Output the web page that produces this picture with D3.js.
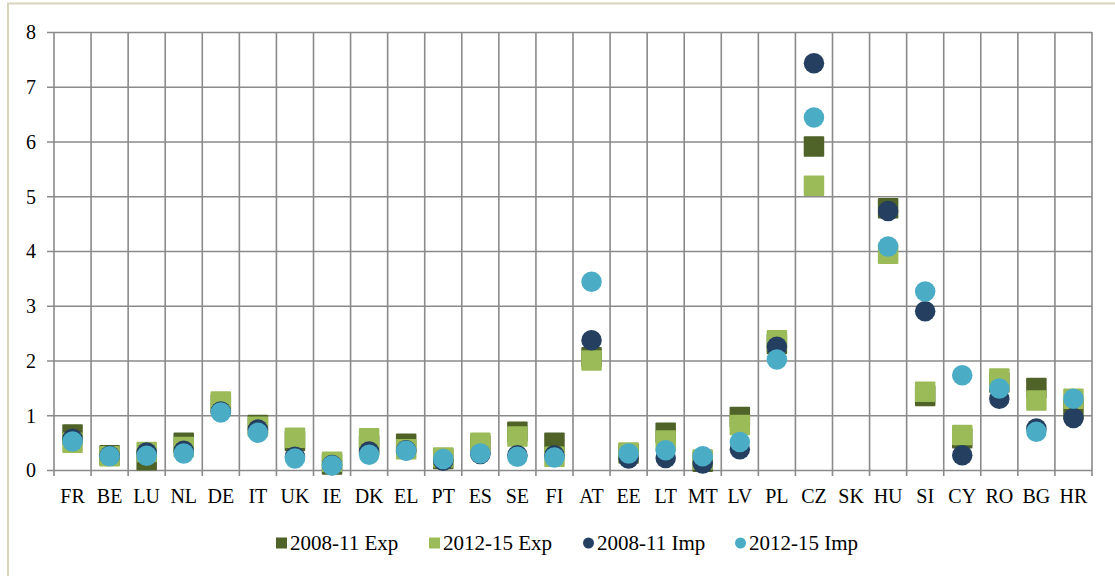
<!DOCTYPE html>
<html><head><meta charset="utf-8">
<script src="https://cdn.jsdelivr.net/npm/d3@7"></script>
<style>
html,body{margin:0;padding:0;background:#fff;}
svg{display:block;}
svg text{font-family:"Liberation Serif","Times New Roman",Times,serif !important;}
</style></head>
<body><svg id="c" width="1115" height="576"></svg>
<script>
const categories = ["FR","BE","LU","NL","DE","IT","UK","IE","DK","EL","PT","ES","SE","FI","AT","EE","LT","MT","LV","PL","CZ","SK","HU","SI","CY","RO","BG","HR"];
const exp0811 = [0.65,0.27,0.18,0.50,1.20,0.82,0.53,0.10,0.45,0.48,0.20,0.45,0.70,0.50,2.06,0.30,0.68,0.15,0.97,2.30,5.91,null,4.78,1.35,0.58,1.60,1.50,1.10];
const exp1215 = [0.50,0.25,0.33,0.42,1.25,0.79,0.59,0.15,0.58,0.38,0.23,0.50,0.61,0.24,2.00,0.32,0.54,0.19,0.82,2.37,5.19,null,3.95,1.43,0.64,1.67,1.27,1.30];
const imp0811 = [0.57,0.26,0.32,0.35,1.07,0.74,0.24,0.09,0.34,0.36,0.17,0.29,0.27,0.27,2.37,0.21,0.22,0.12,0.38,2.25,7.43,null,4.73,2.90,0.27,1.30,0.76,0.95];
const imp1215 = [0.52,0.25,0.26,0.30,1.05,0.68,0.21,0.08,0.28,0.35,0.20,0.30,0.24,0.23,3.44,0.30,0.36,0.25,0.51,2.02,6.44,null,4.08,3.26,1.73,1.49,0.70,1.30];
const seriesNames = ["2008-11 Exp","2012-15 Exp","2008-11 Imp","2012-15 Imp"];
const seriesColors = ["#4F6228","#9BBB59","#243F60","#4BACC6"];
const seriesShapes = ["square","square","circle","circle"];
const yTicks = [0,1,2,3,4,5,6,7,8];

(function () {
const svg = d3.select("#c");
const pL = 54, pR = 1092, pT = 32, pB = 470;
const x = d3.scaleBand().domain(categories).range([pL, pR]).padding(0);
const y = d3.scaleLinear().domain([0, 8]).range([pB, pT]);

svg.append("rect").attr("x", 8).attr("y", 3.5).attr("width", 1200).attr("height", 700)
  .attr("fill", "none").attr("stroke", "#d9d4bc").attr("stroke-width", 2);

const gridColor = "#8a8a8a";
const yAxis = d3.axisLeft(y).tickValues(yTicks).tickSize(-(pR - 47)).tickPadding(11).tickFormat(d3.format("d"));
const gy = svg.append("g").attr("transform", "translate(47,0)").call(yAxis);
gy.select(".domain").remove();
gy.selectAll(".tick line").attr("stroke", gridColor).attr("stroke-width", 1.6);
gy.selectAll(".tick text").attr("font-size", 20).attr("fill", "#000").attr("dy", "0.34em");

const bounds = categories.map(c => x(c)).concat([x(categories[categories.length - 1]) + x.bandwidth()]);
svg.append("g").selectAll("line").data(bounds).join("line")
  .attr("x1", d => d).attr("x2", d => d).attr("y1", pT).attr("y2", pB + 6)
  .attr("stroke", gridColor).attr("stroke-width", 1.6);

const xAxis = d3.axisBottom(x).tickSize(0).tickPadding(19);
const gx = svg.append("g").attr("transform", `translate(0,${pB})`).call(xAxis);
gx.select(".domain").remove();
gx.selectAll(".tick text").attr("font-size", 20).attr("fill", "#000");

const allSeries = [exp0811, exp1215, imp0811, imp1215];
const ms = 20.5;
allSeries.forEach((vals, si) => {
  const pts = categories.map((c, i) => ({c, v: vals[i]})).filter(d => d.v !== null);
  const g = svg.append("g");
  if (seriesShapes[si] === "square") {
    g.selectAll("rect").data(pts).join("rect")
      .attr("x", d => x(d.c) + x.bandwidth() / 2 - ms / 2)
      .attr("y", d => y(d.v) - ms / 2)
      .attr("width", ms).attr("height", ms).attr("rx", 1)
      .attr("fill", seriesColors[si]);
  } else {
    g.selectAll("circle").data(pts).join("circle")
      .attr("cx", d => x(d.c) + x.bandwidth() / 2)
      .attr("cy", d => y(d.v))
      .attr("r", ms / 2)
      .attr("fill", seriesColors[si]);
  }
});

const legX = [276, 429, 583, 735];
const legY = 543;
const lg = svg.append("g");
seriesNames.forEach((n, i) => {
  if (seriesShapes[i] === "square") {
    lg.append("rect").attr("x", legX[i]).attr("y", legY - 5.5).attr("width", 11).attr("height", 11).attr("fill", seriesColors[i]);
  } else {
    lg.append("circle").attr("cx", legX[i] + 5.5).attr("cy", legY).attr("r", 5.5).attr("fill", seriesColors[i]);
  }
  lg.append("text").attr("x", legX[i] + 14).attr("y", legY + 7).attr("font-size", 21).attr("fill", "#000").text(n);
});
})();
</script></body></html>
